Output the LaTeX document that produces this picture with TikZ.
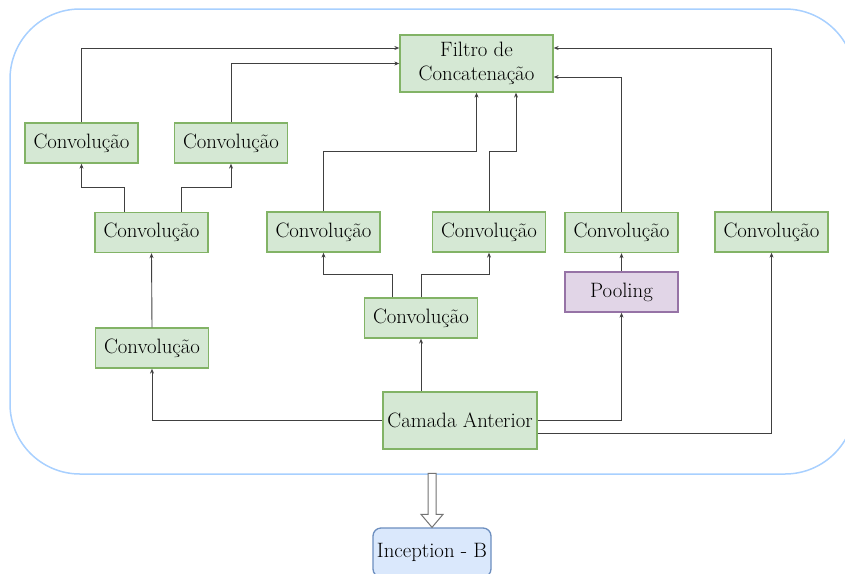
\documentclass[tikz,border=0pt]{standalone}
\usepackage{fontspec}
\usetikzlibrary{arrows.meta,calc}
\definecolor{convfill}{HTML}{D5E8D4}
\definecolor{convline}{HTML}{82B366}
\definecolor{poolfill}{HTML}{E1D5E7}
\definecolor{poolline}{HTML}{9673A6}
\definecolor{blockfill}{HTML}{DAE8FC}
\definecolor{blockline}{HTML}{6C8EBF}
\definecolor{frameline}{HTML}{A8D0FF}
\begin{document}
\begin{tikzpicture}[x=1pt,y=-1pt,
  every node/.style={font=\fontsize{20.8}{24}\selectfont, inner sep=0pt, align=center},
  conv/.style={draw=convline, fill=convfill, line width=1.3pt, minimum width=113pt, minimum height=40pt},
  pool/.style={draw=poolline, fill=poolfill, line width=1.3pt, minimum width=113pt, minimum height=40pt},
  block/.style={draw=blockline, fill=blockfill, line width=1.3pt, rounded corners=8pt, minimum width=118pt, minimum height=49pt},
  arr/.style={draw=black!75, line width=0.9pt, -{Stealth[length=5pt,width=4pt]}}]
\useasboundingbox (0,0) rectangle (845,573);
% module frame
\draw[frameline, line width=1.5pt, rounded corners=70pt] (10,9) rectangle (855,474);
% boxes
\node[conv, minimum width=153pt, minimum height=57pt] (fil) at (476.5,63.5) {Filtro de\\Concatenação};
\node[conv] (a) at (81.5,143) {Convolução};
\node[conv] (b) at (231,143) {Convolução};
\node[conv] (c) at (151.5,232.5) {Convolução};
\node[conv] (d) at (323.5,232) {Convolução};
\node[conv] (e) at (489,232) {Convolução};
\node[conv] (f) at (621.5,232.5) {Convolução};
\node[conv] (g) at (771.5,232) {Convolução};
\node[pool] (pool) at (621.5,292) {Pooling};
\node[conv] (h) at (152,348) {Convolução};
\node[conv] (i) at (421,318) {Convolução};
\node[conv, minimum width=154pt, minimum height=57pt] (cam) at (460,420.5) {Camada Anterior};
\node[block] (inc) at (432,552.5) {Inception - B};
% connectors from the previous layer
\draw[arr] (cam.west) -| (h.south);
\draw[arr] (cam.north -| i.south) -- (i.south);
\draw[arr] (cam.east) -| (pool.south);
\draw[arr] ([yshift=-12.5pt]cam.east) -| (g.south);
% inner branches
\draw[arr] (h.north) -- (c.south);
\draw[arr] (pool.north) -- (f.south);
\draw[arr] ([xshift=-27.5pt]c.north) -- ++(0,-24.5) -| (a.south);
\draw[arr] ([xshift=29.5pt]c.north) -- ++(0,-24.5) -| (b.south);
\draw[arr] ([xshift=-29pt]i.north) -- ++(0,-23) -| (d.south);
\draw[arr] (i.north) -- ++(0,-23) -| (e.south);
% into the concatenation filter
\draw[arr] (a.north) |- ([yshift=15.5pt]fil.west);
\draw[arr] (b.north) |- (fil.west);
\draw[arr] (d.north) -- ++(0,-59.5) -| (fil.south);
\draw[arr] (e.north) -- ++(0,-59.5) -| ([xshift=39.5pt]fil.south);
\draw[arr] (f.north) |- ([yshift=-13.5pt]fil.east);
\draw[arr] (g.north) |- ([yshift=15.5pt]fil.east);
% hollow arrow to the next block
\coordinate (tip) at (inc.north);
\draw[draw=black!55, fill=white, line width=1pt]
  ($(tip)+(-4,-54)$) -- ($(tip)+(4,-54)$) -- ($(tip)+(4,-13)$) -- ($(tip)+(11,-13)$)
  -- (tip) -- ($(tip)+(-11,-13)$) -- ($(tip)+(-4,-13)$) -- cycle;
\end{tikzpicture}
\end{document}
